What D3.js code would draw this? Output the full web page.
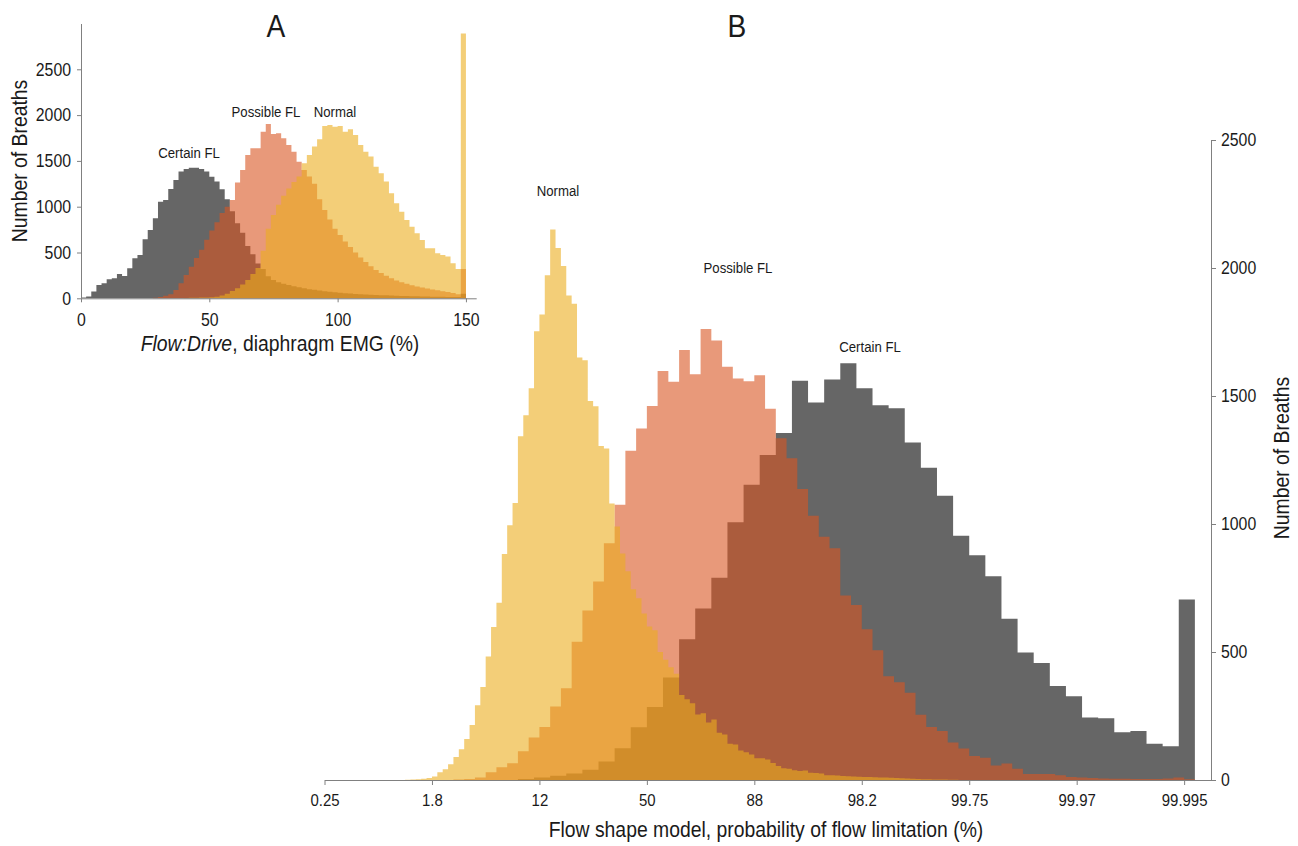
<!DOCTYPE html>
<html>
<head>
<meta charset="utf-8">
<script src="https://cdn.jsdelivr.net/npm/d3@7"></script>
<style>
  body { margin: 0; background: #fff; }
  text { font-family: "Liberation Sans", Arial, sans-serif; fill: #1a1a1a; }
</style>
</head>
<body>
<svg id="chart" width="1298" height="846"></svg>
<script>
// ---- Panel A: Flow:Drive histograms, bins of 2 % starting at 0 ----
const aBinStart = 0, aBinWidth = 2;
const aCertain = [10,20,73,146,164,207,218,266,244,327,437,473,644,746,873,1055,1073,1193,1292,1383,
  1412,1426,1426,1412,1383,1328,1274,1190,1080,950,820,715,570,480,380,320,240,200,175,158,
  145,132,120,110,100,92,85,78,72,66,60,56,52,48,45,42,39,36,34,32,30,28,26,24,23,22,20,19,18,17,
  16,15,14,13,50];
const aPossible = [0,0,0,0,0,0,0,0,0,0,0,0,0,0,5,15,28,45,90,165,
  255,345,440,530,640,740,830,930,1000,1073,1263,1401,1565,1637,1637,1819,1903,1794,1801,1746,
  1674,1601,1492,1400,1330,1250,1080,965,860,760,690,620,560,500,445,395,350,310,275,245,
  218,195,175,158,143,130,118,107,97,88,78,68,57,45,320];
const aNormal = [0,0,0,0,0,0,0,0,0,0,0,0,0,0,0,0,0,0,0,0,
  3,5,6,8,10,12,18,30,50,80,110,150,200,265,330,520,760,910,1020,1120,
  1200,1270,1330,1474,1565,1656,1736,1881,1892,1874,1881,1819,1845,1783,1674,1601,1547,1437,1365,1274,
  1146,1037,946,855,782,709,637,546,546,491,473,455,382,320,2890];
const aTicksX = [0, 50, 100, 150];
const aTicksY = [0, 500, 1000, 1500, 2000, 2500];

// ---- Panel B: flow shape model, bins in logit units ----
const bNormalStart = -4.5, bNormalWidth = 0.1;
const bNormal = [1,2,3,5,8,
  14,30,42,62,90,120,160,215,292,363,
  482,598,692,883,995,1082,1343,1425,1530,1753,
  1818,1972,2150,2078,2008,1893,1860,1650,1640,1480,
  1460,1305,1295,1080,990,885,815,745,710,650,
  600,585,500,470,440,415,332,315,300,256,
  261,225,236,185,178,142,139,115,108,100,
  85,85,80,66,55,46,44,38,35,37,
  28,27,25,19,19,18,16,15,14,13,
  12,12,11,10,10,9,8,7,6,5,
  4,3,3,2,2,2,1,1];
const bPossibleStart = -3.6, bPossibleWidth = 0.2;
const bPossible = [2,4,10,30,50,65,112,166,207,287,
  358,540,662,775,925,1075,1286,1373,1461,1598,
  1556,1680,1585,1762,1717,1614,1568,1558,1581,1450,
  1335,1257,1137,1032,950,905,721,684,589,507,
  405,382,341,255,207,191,146,123,94,87,
  57,64,44,23,23,23,19,12,10,8,
  6,5,5,4,4,4,6,10,3];
const bCertainStart = -2.4, bCertainWidth = 0.3;
const bCertain = [4,10,17,25,40,72,124,206,285,400,
  550,670,790,1007,1153,1270,1355,1560,1475,1564,
  1628,1530,1464,1452,1318,1220,1110,954,878,796,
  630,498,457,367,327,244,241,187,191,142,
  132,705];
const bTickLogit = [-6, -4, -2, 0, 2, 4, 6, 8, 10];
const bTickLabels = ["0.25", "1.8", "12", "50", "88", "98.2", "99.75", "99.97", "99.995"];
const bTicksY = [0, 500, 1000, 1500, 2000, 2500];

// MATLAB-like face colours, drawn at 0.6 alpha: certain, possible, normal
const colCertain = "rgb(0,0,0)", colPossible = "rgb(217,85,33)", colNormal = "rgb(235,173,30)";
const AXIS = "#808080";
const SX = 0.88; // figure text is slightly condensed
const FONT = '"Liberation Sans", Arial, sans-serif';
const fmt = d3.format("d");

const svg = d3.select("#chart");

function bins(start, width, counts) {
  return counts.map((n, i) => ({ x0: start + i * width, x1: start + (i + 1) * width, n }));
}

function drawHist(g, series, x, y) {
  const area = d3.area().curve(d3.curveStepAfter)
    .x(d => x(d[0])).y0(y(0)).y1(d => y(d[1]));
  series.forEach(s => {
    const b = bins(s.start, s.width, s.counts);
    const pts = b.map(d => [d.x0, d.n]);
    pts.push([b[b.length - 1].x1, b[b.length - 1].n]);
    g.append("path").attr("d", area(pts))
      .attr("fill", s.color).attr("fill-opacity", 0.6);
  });
}

function styleAxis(sel, size) {
  sel.attr("font-family", FONT).attr("font-size", size);
  sel.select(".domain").attr("stroke", AXIS);
  sel.selectAll(".tick line").attr("stroke", AXIS);
  sel.selectAll(".tick text").attr("fill", "#1a1a1a").each(function () {
    const t = d3.select(this);
    t.attr("x", (+t.attr("x") || 0) / SX).attr("transform", `scale(${SX},1)`);
  });
}

function label(x, y, str, size, rotate) {
  return svg.append("text")
    .attr("transform", `translate(${x},${y})` + (rotate ? ` rotate(${rotate})` : "") + ` scale(${SX},1)`)
    .attr("text-anchor", "middle")
    .style("font-size", size + "px")
    .text(str);
}

// ---------- Panel B (drawn first, A sits on top-left) ----------
const xB = d3.scaleLinear().domain([-6, 10.5]).range([324.5, 1211]);
const yB = d3.scaleLinear().domain([0, 2500]).range([780, 140]);

drawHist(svg.append("g"), [
  { start: bCertainStart, width: bCertainWidth, counts: bCertain, color: colCertain },
  { start: bPossibleStart, width: bPossibleWidth, counts: bPossible, color: colPossible },
  { start: bNormalStart, width: bNormalWidth, counts: bNormal, color: colNormal }
], xB, yB);

svg.append("g").attr("transform", "translate(0,780)")
  .call(d3.axisBottom(xB).tickValues(bTickLogit).tickFormat((d, i) => bTickLabels[i])
    .tickSize(5).tickSizeOuter(0).tickPadding(9))
  .call(styleAxis, 17);

svg.append("g").attr("transform", "translate(1211,0)")
  .call(d3.axisRight(yB).tickValues(bTicksY).tickFormat(fmt)
    .tickSize(5).tickSizeOuter(0).tickPadding(5))
  .call(styleAxis, 18);

label(766, 837, "Flow shape model, probability of flow limitation (%)", 22);
label(1289, 458, "Number of Breaths", 22, -90);
label(558, 196, "Normal", 15);
label(738, 273, "Possible FL", 15);
label(870, 352, "Certain FL", 15);
label(737, 37, "B", 32);

// ---------- Panel A ----------
const xA = d3.scaleLinear().domain([0, 154]).range([81, 476.2]);
const yA = d3.scaleLinear().domain([0, 3000]).range([298.3, 23.5]);

drawHist(svg.append("g"), [
  { start: aBinStart, width: aBinWidth, counts: aCertain, color: colCertain },
  { start: aBinStart, width: aBinWidth, counts: aPossible, color: colPossible },
  { start: aBinStart, width: aBinWidth, counts: aNormal, color: colNormal }
], xA, yA);

svg.append("g").attr("transform", "translate(0,298.3)")
  .call(d3.axisBottom(xA).tickValues(aTicksX).tickSize(4).tickSizeOuter(0).tickPadding(11))
  .call(styleAxis, 18);

svg.append("g").attr("transform", "translate(81,0)")
  .call(d3.axisLeft(yA).tickValues(aTicksY).tickFormat(fmt)
    .tickSize(4).tickSizeOuter(0).tickPadding(6))
  .call(styleAxis, 18);

const ax = label(280, 351, "", 22);
ax.append("tspan").style("font-style", "italic").text("Flow:Drive");
ax.append("tspan").text(", diaphragm EMG (%)");
label(27, 161, "Number of Breaths", 22, -90);
label(189, 158, "Certain FL", 15);
label(266, 117, "Possible FL", 15);
label(335, 117, "Normal", 15);
label(276, 37, "A", 32);
</script>
</body>
</html>
